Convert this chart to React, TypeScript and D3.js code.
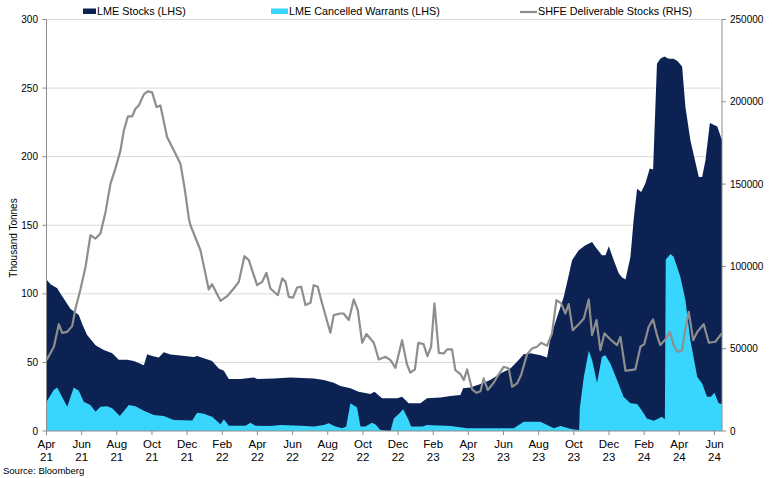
import React from "react";
import * as d3 from "d3";

// Month offsets are months since 1 Apr 2021
const lmeStocks: [number, number][] = [
  [0, 110.5], [0.23, 107], [0.61, 104], [0.8, 100], [1.37, 89], [1.84, 84.5], [2.03, 78], [2.31, 70],
  [2.79, 62.6], [3.26, 59], [3.74, 56.6], [4.11, 52], [4.59, 52], [4.97, 51], [5.54, 48], [5.73, 56],
  [6.01, 54.6], [6.39, 53.6], [6.67, 57.5], [7.05, 55.8], [7.62, 55], [8.38, 54], [8.57, 54.6], [8.95, 53],
  [9.42, 51], [9.8, 45.6], [10.09, 44], [10.37, 37.9], [11.04, 38], [11.8, 39], [11.98, 38], [12.93, 38.2],
  [13.88, 39], [15.2, 38.2], [15.77, 37.1], [16.34, 35.2], [16.72, 32.8], [17.29, 31.1], [17.76, 28.6],
  [18.43, 26.9], [18.66, 28.6], [19.09, 23.8], [19.95, 23.8], [20.23, 25], [20.6, 20.2], [21.27, 20.2],
  [21.65, 23.8], [22.41, 24.5], [22.98, 25.5], [23.55, 26.2], [23.7, 31.1], [24.11, 31.8], [24.69, 34.2],
  [25.25, 37.1], [25.82, 42], [26.39, 45.6], [26.77, 50.5], [27.15, 56], [27.53, 56.6], [28.1, 55.3],
  [28.48, 53.6], [28.67, 68], [29.05, 83.2], [29.43, 97.8], [29.71, 113.6], [29.9, 124.5], [30.28, 131.8],
  [30.66, 135.4], [31.04, 137.8], [31.23, 134.2], [31.6, 128.2], [31.8, 128.2], [31.99, 134.7], [32.27, 124.5],
  [32.56, 114.8], [32.75, 111.9], [32.94, 110.5], [33.22, 126.9], [33.41, 154.9], [33.6, 176.7], [33.83, 174.3],
  [34.07, 180.4], [34.32, 191.3], [34.51, 190.6], [34.73, 267.7], [34.92, 271.4], [35.15, 273.1], [35.4, 271.4],
  [35.68, 271.4], [35.91, 269.6], [36.16, 265.8], [36.35, 236.2], [36.63, 211.9], [37.11, 185.2], [37.3, 185.2],
  [37.49, 197.3], [37.74, 224.5], [38.16, 222], [38.43, 212],
];

const cancelledWarrants: [number, number][] = [
  [0, 21.4], [0.42, 30], [0.61, 31.8], [1.18, 17.7], [1.55, 31.8], [1.84, 29.4], [2.12, 21.4], [2.5, 19],
  [2.79, 14], [3.07, 17.7], [3.45, 18], [3.74, 16.5], [4.17, 11], [4.68, 19], [5.06, 18], [5.54, 14.8],
  [6.1, 11.6], [6.67, 11], [7.24, 8], [8.29, 7.6], [8.57, 13.3], [8.95, 12.6], [9.42, 10.4], [9.9, 5],
  [10.09, 8.5], [10.37, 3.9], [11.32, 3.9], [11.6, 6], [11.89, 3.9], [12.74, 3.7], [13.31, 4.4], [14.45, 3.9],
  [15.2, 3.2], [15.77, 4.4], [16.06, 5.6], [16.44, 3.2], [16.82, 2], [17.05, 3.2], [17.29, 20.2], [17.67, 17.2],
  [17.86, 3.2], [18.14, 3.2], [18.52, 6], [18.7, 5], [19.0, 0.7], [19.57, 0], [19.76, 9.2], [20.04, 12.4],
  [20.29, 15.8], [20.6, 8], [20.74, 3.2], [21.4, 3.2], [21.65, 4.4], [23.0, 3.6], [23.93, 2], [26.58, 2],
  [27.15, 6.8], [28.1, 6.8], [28.48, 4.4], [28.86, 2], [29.24, 3.6], [29.9, 1.2], [30.3, 0.7], [30.34, 16.5],
  [30.57, 39.6], [30.85, 58.5], [31.04, 51.7], [31.32, 35.2], [31.6, 54.1], [31.79, 55.3], [32.08, 49.3],
  [32.46, 37.1], [32.83, 25], [33.22, 20.2], [33.6, 19.7], [33.88, 14.8], [34.16, 9.2], [34.54, 7.5],
  [34.82, 9.2], [35.0, 10.4], [35.18, 8.5], [35.23, 125], [35.5, 129], [35.68, 127], [36.06, 112.4],
  [36.35, 95.4], [36.63, 66.3], [37.02, 39.6], [37.3, 34.7], [37.58, 25], [37.8, 25], [38.0, 27.9],
  [38.24, 20.2], [38.43, 19.7],
];

const shfeStocks: [number, number][] = [
  [0, 43000], [0.42, 51150], [0.7, 64900], [0.89, 59650], [1.18, 60250], [1.46, 63700], [1.65, 74450],
  [1.93, 86000], [2.22, 99700], [2.5, 118900], [2.79, 116900], [3.07, 120000], [3.36, 133100], [3.64, 150300],
  [3.92, 159400], [4.21, 170500], [4.4, 182600], [4.63, 191100], [4.87, 191100], [5.06, 195800], [5.25, 197800],
  [5.54, 204500], [5.76, 206300], [6.01, 205700], [6.26, 196800], [6.48, 197800], [6.86, 178600], [7.24, 170500],
  [7.62, 162400], [7.85, 148200], [8.1, 129000], [8.19, 125000], [8.76, 109800], [9.23, 86000], [9.42, 89200],
  [9.9, 79100], [10.28, 81900], [10.65, 86600], [10.94, 90600], [11.26, 106200], [11.51, 103800], [11.98, 88600],
  [12.27, 90600], [12.51, 96100], [12.74, 86600], [13.16, 82500], [13.41, 92700], [13.6, 90600], [13.78, 81500],
  [14.03, 81000], [14.26, 87200], [14.49, 87600], [14.73, 76500], [15.02, 77900], [15.2, 88600], [15.43, 87600],
  [15.68, 77500], [16.15, 59650], [16.34, 70400], [16.72, 71400], [16.9, 71400], [17.2, 67400], [17.48, 79900],
  [17.71, 73400], [17.96, 53600], [18.2, 58900], [18.62, 53600], [18.9, 43500], [19.28, 45100], [19.57, 43100],
  [19.85, 38400], [20.23, 55200], [20.5, 40700], [20.7, 35400], [20.96, 37400], [21.15, 53600], [21.45, 52800],
  [21.67, 45500], [21.88, 51200], [22.07, 77500], [22.32, 47500], [22.6, 47100], [22.79, 49600], [23.07, 49600],
  [23.26, 37000], [23.55, 34600], [23.74, 30900], [23.93, 37400], [24.21, 25300], [24.46, 23200], [24.69, 24100],
  [24.87, 32000], [25.1, 24900], [25.44, 29300], [25.64, 33000], [26.01, 39000], [26.3, 38000], [26.49, 26900],
  [26.77, 28900], [27.0, 34000], [27.34, 46700], [27.63, 50200], [27.91, 51200], [28.14, 53600], [28.48, 51800],
  [28.76, 59300], [29.01, 79500], [29.28, 77500], [29.52, 71400], [29.71, 77100], [29.94, 61300], [30.28, 64900],
  [30.57, 68400], [30.85, 79900], [31.04, 58300], [31.29, 67400], [31.51, 49100], [31.74, 59300], [32.08, 55600],
  [32.46, 52200], [32.65, 57200], [32.94, 36600], [33.2, 37000], [33.5, 37400], [33.79, 51200], [34.01, 52800],
  [34.26, 63300], [34.51, 67800], [34.73, 58300], [34.92, 52200], [35.21, 55600], [35.46, 60200], [35.68, 52200],
  [35.91, 48100], [36.16, 49100], [36.35, 62300], [36.54, 72400], [36.79, 55200], [37.02, 60200], [37.39, 64900],
  [37.68, 53600], [38.05, 54200], [38.34, 58300], [38.43, 59500],
];

const xTickMonths = ["Apr", "Jun", "Aug", "Oct", "Dec", "Feb", "Apr", "Jun", "Aug", "Oct", "Dec", "Feb", "Apr", "Jun", "Aug", "Oct", "Dec", "Feb", "Apr", "Jun"];
const xTickYears = ["21", "21", "21", "21", "21", "22", "22", "22", "22", "22", "22", "23", "23", "23", "23", "23", "23", "24", "24", "24"];
const leftTicks = [0, 50, 100, 150, 200, 250, 300];
const rightTicks = [0, 50000, 100000, 150000, 200000, 250000];

const legendItems = ["LME Stocks (LHS)", "LME Cancelled Warrants (LHS)", "SHFE Deliverable Stocks (RHS)"];

const NAVY = "#0b2253";
const LIGHT = "#38d5fc";
const GREY_LINE = "#8e8e8e";
const AXIS = "#8c8c8c";
const GRID = "#d9d9d9";
const FONT = "'Liberation Sans', Arial, sans-serif";

export default function App() {
  const left = 46.5, right = 722, top = 19.5, bottom = 431;
  const x = d3.scaleLinear().domain([0, 38.43]).range([left, right]);
  const yL = d3.scaleLinear().domain([0, 300]).range([bottom, top]);
  const yR = d3.scaleLinear().domain([0, 250000]).range([bottom, top]);

  const areaL = d3.area<[number, number]>().x(d => x(d[0])).y0(yL(0)).y1(d => yL(d[1]));
  const lineR = d3.line<[number, number]>().x(d => x(d[0])).y(d => yR(d[1]));

  return (
    <svg width={770} height={478} style={{ position: "absolute", left: 0, top: 0, background: "#fff" }} fontFamily={FONT}>
      {/* gridlines */}
      {leftTicks.filter(t => t > 0).map(t => (
        <line key={"g" + t} x1={left} x2={right} y1={yL(t)} y2={yL(t)} stroke={GRID} strokeWidth={1} />
      ))}
      {/* areas */}
      <path d={areaL(lmeStocks) || ""} fill={NAVY} />
      <path d={areaL(cancelledWarrants) || ""} fill={LIGHT} />
      <path d={lineR(shfeStocks) || ""} fill="none" stroke={GREY_LINE} strokeWidth={2.2} strokeLinejoin="round" />

      {/* left axis */}
      <line x1={left} x2={left} y1={top} y2={bottom} stroke={AXIS} />
      {leftTicks.map(t => (
        <g key={"l" + t}>
          <line x1={left - 4} x2={left} y1={yL(t)} y2={yL(t)} stroke={AXIS} />
          <text x={38} y={yL(t)} dy="0.35em" textAnchor="end" fontSize={10} fill="#000">{t}</text>
        </g>
      ))}
      <text transform={`translate(17,238) rotate(-90)`} textAnchor="middle" fontSize={10} fill="#000">Thousand Tonnes</text>

      {/* right axis */}
      <line x1={right} x2={right} y1={top} y2={bottom} stroke={AXIS} />
      {rightTicks.map(t => (
        <g key={"r" + t}>
          <line x1={right} x2={right + 4} y1={yR(t)} y2={yR(t)} stroke={AXIS} />
          <text x={730} y={yR(t)} dy="0.35em" textAnchor="start" fontSize={10} fill="#000">{t}</text>
        </g>
      ))}

      {/* bottom axis */}
      <line x1={left} x2={right} y1={bottom} y2={bottom} stroke={AXIS} />
      {xTickMonths.map((m, i) => {
        const xx = x(i * 2);
        return (
          <g key={"x" + i}>
            <line x1={xx} x2={xx} y1={bottom} y2={bottom + 4} stroke={AXIS} />
            <text x={xx} y={448} textAnchor="middle" fontSize={11.5} fill="#000">{m}</text>
            <text x={xx} y={460.5} textAnchor="middle" fontSize={11.5} fill="#000">{xTickYears[i]}</text>
          </g>
        );
      })}

      {/* legend */}
      <rect x={83} y={8.5} width={13} height={5.5} fill={NAVY} />
      <text x={97} y={15} fontSize={10.8} fill="#000">{legendItems[0]}</text>
      <rect x={271} y={8.5} width={17} height={5.5} fill={LIGHT} />
      <text x={289} y={15} fontSize={10.8} fill="#000">{legendItems[1]}</text>
      <line x1={520} x2={537} y1={12} y2={12} stroke={GREY_LINE} strokeWidth={2.2} />
      <text x={538} y={15} fontSize={10.8} fill="#000">{legendItems[2]}</text>

      <text x={3} y={474} fontSize={9.5} fill="#000">Source: Bloomberg</text>
    </svg>
  );
}
